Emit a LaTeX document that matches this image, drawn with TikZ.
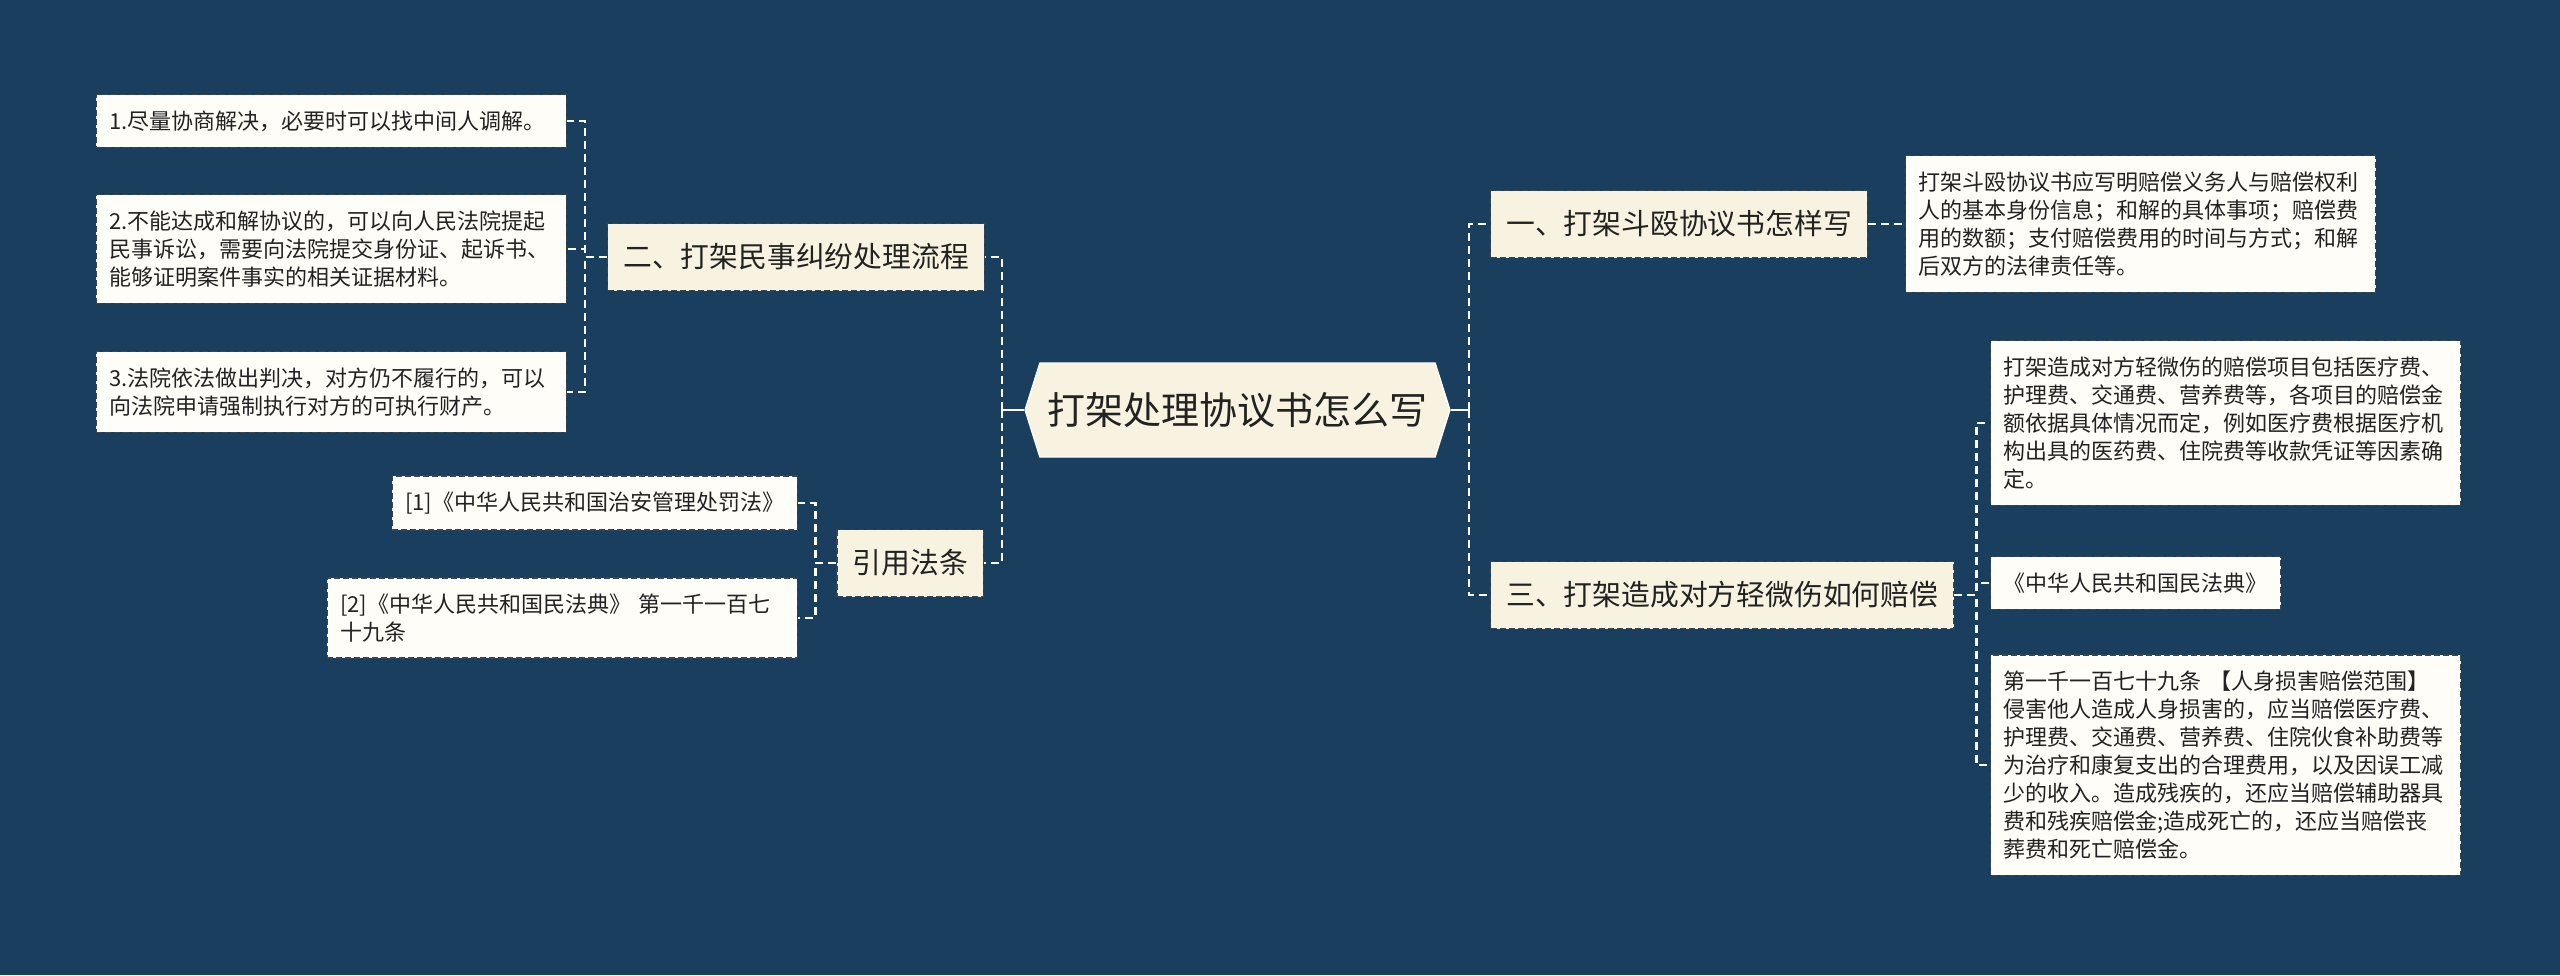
\documentclass[tikz,border=0pt]{standalone}
\usepackage{fontspec}
\setmainfont{Noto Sans CJK SC}
\usetikzlibrary{shapes.symbols}
\definecolor{bgc}{RGB}{26,62,94}
\definecolor{cream}{RGB}{248,243,225}
\definecolor{paper}{RGB}{254,253,247}
\definecolor{rim}{RGB}{55,70,85}
\definecolor{ink}{RGB}{34,34,34}
\tikzset{
  root/.style={signal, signal to=west and east, signal pointer angle=145,
               fill=cream, draw=white, line width=0.6pt, text=ink,
               font=\fontsize{19}{22}\selectfont, minimum width=212.5pt, minimum height=47pt},
  br/.style={draw=rim, fill=cream, dash pattern=on 3pt off 1.5pt, line width=0.7pt, text=ink,
             font=\fontsize{14.4}{17}\selectfont, inner xsep=7.75pt, minimum height=33.5pt},
  lf/.style={draw=rim, fill=paper, dash pattern=on 3pt off 1.5pt, line width=0.7pt, text=ink,
             font=\fontsize{11}{14}\selectfont, inner xsep=6.5pt, inner ysep=8pt, align=left},
  wrap/.style={text width=222pt},
  stem/.style={draw=white, line width=1.1pt},
  link/.style={draw=white, line width=1.1pt, dash pattern=on 4pt off 2.5pt},
}
\begin{document}
\begin{tikzpicture}[x=0.5pt,y=-0.5pt]
  \fill[bgc] (0,0) rectangle (2560,975);
  \useasboundingbox (0,0) rectangle (2560,975);
  \node[root] (top) at (1237.5,410) {打架处理协议书怎么写};
  \node[br,anchor=east] (b2) at (985,257) {二、打架民事纠纷处理流程};
  \node[br,anchor=east] (b4) at (984,563) {引用法条};
  \node[br,anchor=west] (b1) at (1490,224) {一、打架斗殴协议书怎样写};
  \node[br,anchor=west] (b3) at (1490,595) {三、打架造成对方轻微伤如何赔偿};
  \node[lf,wrap,anchor=east] (l21) at (567,121) {1.尽量协商解决，必要时可以找中间人调解。};
  \node[lf,wrap,anchor=east] (l22) at (567,249) {2.不能达成和解协议的，可以向人民法院提起\\民事诉讼，需要向法院提交身份证、起诉书、\\能够证明案件事实的相关证据材料。};
  \node[lf,wrap,anchor=east] (l23) at (567,392) {3.法院依法做出判决，对方仍不履行的，可以\\向法院申请强制执行对方的可执行财产。};
  \node[lf,anchor=east] (l41) at (798,503) {[1]《中华人民共和国治安管理处罚法》};
  \node[lf,wrap,anchor=east] (l42) at (798,618) {[2]《中华人民共和国民法典》 第一千一百七\\十九条};
  \node[lf,wrap,anchor=west] (l11) at (1905,224) {打架斗殴协议书应写明赔偿义务人与赔偿权利\\人的基本身份信息；和解的具体事项；赔偿费\\用的数额；支付赔偿费用的时间与方式；和解\\后双方的法律责任等。};
  \node[lf,wrap,anchor=west] (l31) at (1990,423) {打架造成对方轻微伤的赔偿项目包括医疗费、\\护理费、交通费、营养费等，各项目的赔偿金\\额依据具体情况而定，例如医疗费根据医疗机\\构出具的医药费、住院费等收款凭证等因素确\\定。};
  \node[lf,anchor=west] (l32) at (1990,583) {《中华人民共和国民法典》};
  \node[lf,wrap,anchor=west] (l33) at (1990,765) {第一千一百七十九条 【人身损害赔偿范围】\\侵害他人造成人身损害的，应当赔偿医疗费、\\护理费、交通费、营养费、住院伙食补助费等\\为治疗和康复支出的合理费用，以及因误工减\\少的收入。造成残疾的，还应当赔偿辅助器具\\费和残疾赔偿金;造成死亡的，还应当赔偿丧\\葬费和死亡赔偿金。};
  \draw[stem] (top.west) -- ++(-22,0) coordinate (rl);
  \draw[stem] (top.east) -- ++(18,0) coordinate (rr);
  \draw[link] (rl) |- (b2.east);
  \draw[link] (rl) |- (b4.east);
  \draw[link] (rr) |- (b1.west);
  \draw[link] (rr) |- (b3.west);
  \foreach \n in {l21,l22,l23}
    \draw[link] (b2.west) -- ++(-22,0) |- (\n.east);
  \foreach \n in {l41,l42}
    \draw[link] (b4.west) -- ++(-21,0) |- (\n.east);
  \draw[link] (b1.east) -- (l11.west);
  \foreach \n in {l31,l32,l33}
    \draw[link] (b3.east) -- ++(22,0) |- (\n.west);
\end{tikzpicture}
\end{document}
